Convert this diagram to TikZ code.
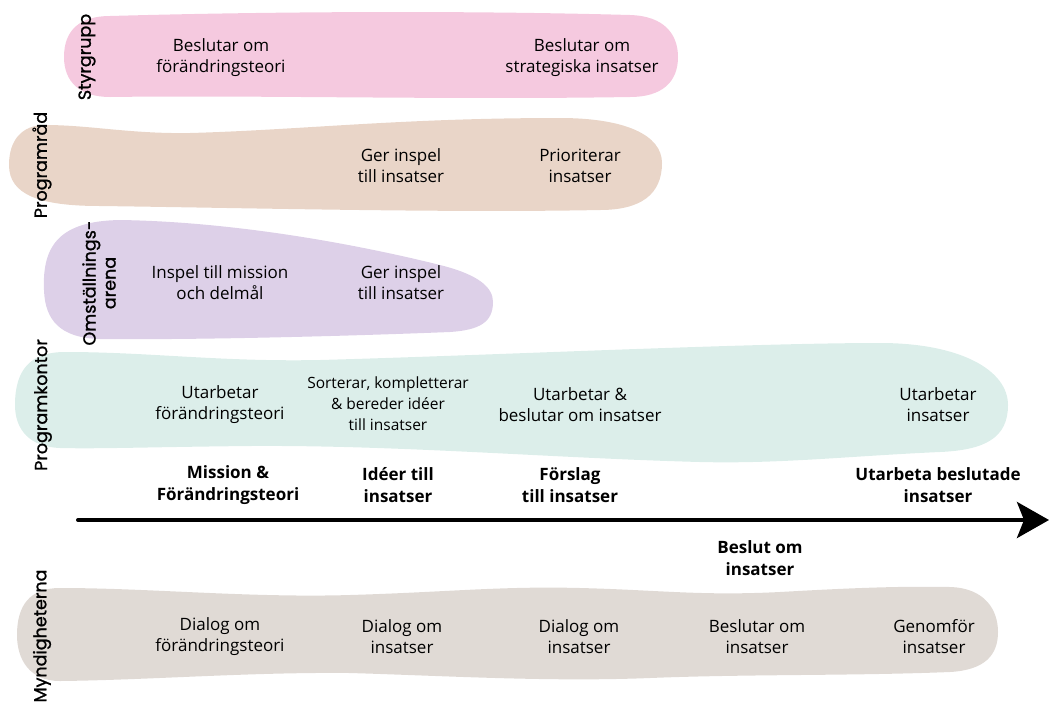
\documentclass[tikz,border=0pt]{standalone}
\usepackage{fontspec}
\setmainfont{Open Sans}
\newfontfamily\lanefont{Poppins}[FakeBold=1.2]
\usetikzlibrary{arrows.meta}
\definecolor{styrpink}{HTML}{F5C9DF}
\definecolor{radtan}{HTML}{E9D5C8}
\definecolor{arenalila}{HTML}{DDD0E8}
\definecolor{kontormint}{HTML}{DCEEEA}
\definecolor{myndgrey}{HTML}{E0DAD5}
\tikzset{
  act/.style={align=center,font=\fontsize{17}{21}\selectfont,inner sep=0pt},
  smallact/.style={act,font=\fontsize{15.5}{21}\selectfont},
  phase/.style={act,font=\fontsize{17}{22}\selectfont\bfseries},
  lane/.style={rotate=90,align=center,inner sep=0pt,font=\lanefont\fontsize{17.5}{20}\selectfont}
}
\begin{document}
\begin{tikzpicture}[x=1pt,y=-1pt,>=Stealth,line cap=round,line join=round]
\useasboundingbox (0,0) rectangle (1049,702);
% lanes
\fill[styrpink] (64,57) .. controls (64,30) and (80,16) .. (110,16)
  .. controls (250,12) and (450,10) .. (630,15)
  .. controls (665,16) and (678,35) .. (678,57)
  .. controls (678,82) and (662,97) .. (630,97)
  .. controls (450,100) and (250,95) .. (110,97)
  .. controls (80,97) and (64,82) .. (64,57) -- cycle;
\fill[radtan] (9,165) .. controls (9,140) and (22,125) .. (45,125)
  .. controls (90,125) and (130,134) .. (190,133)
  .. controls (300,130) and (400,118) .. (560,118)
  .. controls (625,118) and (662,135) .. (662,163)
  .. controls (662,195) and (640,210) .. (600,210)
  .. controls (450,213) and (250,208) .. (100,206)
  .. controls (40,206) and (9,195) .. (9,165) -- cycle;
\fill[arenalila] (44,290) .. controls (42,245) and (60,221) .. (120,220)
  .. controls (250,222) and (380,250) .. (440,265)
  .. controls (480,275) and (493,288) .. (493,302)
  .. controls (493,322) and (480,330) .. (450,332)
  .. controls (350,336) and (200,340) .. (100,339)
  .. controls (60,338) and (45,320) .. (44,290) -- cycle;
\fill[kontormint] (15,405) .. controls (15,370) and (30,352) .. (65,352)
  .. controls (150,352) and (220,362) .. (320,360)
  .. controls (500,355) and (750,343) .. (880,343)
  .. controls (960,343) and (1008,370) .. (1008,405)
  .. controls (1008,438) and (985,450) .. (940,452)
  .. controls (850,456) and (780,464) .. (700,462)
  .. controls (550,458) and (400,445) .. (250,446)
  .. controls (150,447) and (100,449) .. (60,448)
  .. controls (30,447) and (15,430) .. (15,405) -- cycle;
\fill[myndgrey] (17,635) .. controls (17,605) and (30,588) .. (60,588)
  .. controls (150,588) and (250,598) .. (350,595)
  .. controls (450,592) and (500,586) .. (580,588)
  .. controls (660,590) and (700,596) .. (780,592)
  .. controls (850,588) and (900,586) .. (950,587)
  .. controls (985,588) and (998,610) .. (998,632)
  .. controls (998,655) and (985,670) .. (950,672)
  .. controls (850,676) and (750,674) .. (650,678)
  .. controls (550,682) and (450,676) .. (350,673)
  .. controls (250,672) and (150,680) .. (60,681)
  .. controls (30,681) and (17,660) .. (17,635) -- cycle;
% lane labels
\node[lane] (styrgrupp) at (87,57) {Styrgrupp};
\node[lane] (programrad) at (42,165) {Programråd};
\node[lane] (arena) at (99,283) {Omställnings-\\arena};
\node[lane] (kontor) at (43,405) {Programkontor};
\node[lane] (myndigheter) at (42,636) {Myndigheterna};
% activities
\foreach \x/\txt [count=\i] in {221/{Beslutar om\\förändringsteori},582/{Beslutar om\\strategiska insatser}}
  \node[act] (styr\i) at (\x,58) {\txt};
\foreach \x/\txt [count=\i] in {401/{Ger inspel\\till insatser},580/{Prioriterar\\insatser}}
  \node[act] (rad\i) at (\x,166) {\txt};
\foreach \x/\txt [count=\i] in {220/{Inspel till mission\\och delmål},401/{Ger inspel\\till insatser}}
  \node[act] (arena\i) at (\x,283) {\txt};
\foreach \x/\txt [count=\i] in {220/{Utarbetar\\förändringsteori},580/{Utarbetar \&\\beslutar om insatser},938/{Utarbetar\\insatser}}
  \node[act] (kontor\i) at (\x,405) {\txt};
\node[smallact] (sortera) at (388,404) {Sorterar, kompletterar\\\& bereder idéer\\till insatser};
\foreach \x/\txt [count=\i] in {220/{Dialog om\\förändringsteori},402/{Dialog om\\insatser},579/{Dialog om\\insatser},757/{Beslutar om\\insatser},934/{Genomför\\insatser}}
  \node[act] (mynd\i) at (\x,637) {\txt};
% time axis
\coordinate (axisstart) at (78,520);
\coordinate (axisend) at (1049,520);
\draw[line width=4pt,-{Stealth[length=32pt,width=36pt,inset=7pt]}] (axisstart) -- (axisend);
\foreach \x/\txt [count=\i] in {228/{Mission \&\\Förändringsteori},398/{Idéer till\\insatser},570/{Förslag\\till insatser},938/{Utarbeta beslutade\\insatser}}
  \node[phase] (phase\i) at (\x,485) {\txt};
\node[phase] (beslut) at (760,558) {Beslut om\\insatser};
\end{tikzpicture}
\end{document}
